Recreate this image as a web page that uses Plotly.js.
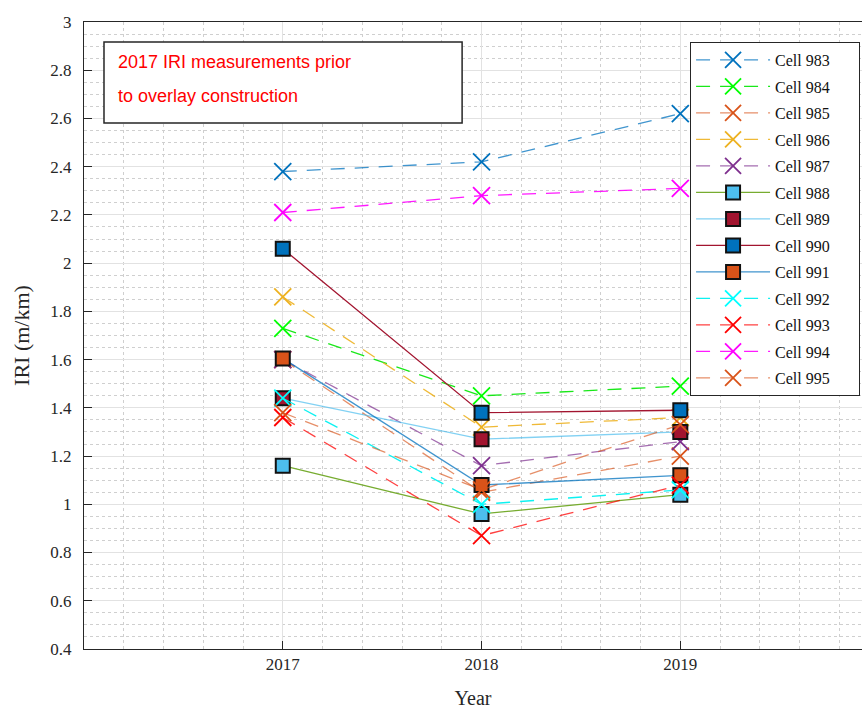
<!DOCTYPE html>
<html>
<head>
<meta charset="utf-8">
<script src="https://cdn.plot.ly/plotly-3.0.1.min.js"></script>
<style>html,body{margin:0;padding:0;background:#fff;overflow:hidden}</style>
</head>
<body>
<div id="chart" style="width:862px;height:709px"></div>
<script>
// ---- data ----
const years = [2017, 2018, 2019];
const cellNames = ['Cell 983','Cell 984','Cell 985','Cell 986','Cell 987','Cell 988','Cell 989',
                   'Cell 990','Cell 991','Cell 992','Cell 993','Cell 994','Cell 995'];
const cell983 = [2.38, 2.42, 2.62];
const cell984 = [1.73, 1.45, 1.49];
const cell985 = [1.60, 1.05, 1.20];
const cell986 = [1.86, 1.32, 1.36];
const cell987 = [1.60, 1.16, 1.26];
const cell988 = [1.16, 0.96, 1.04];
const cell989 = [1.44, 1.27, 1.30];
const cell990 = [2.06, 1.38, 1.39];
const cell991 = [1.605, 1.08, 1.12];
const cell992 = [1.44, 1.00, 1.06];
const cell993 = [1.36, 0.87, 1.08];
const cell994 = [2.21, 2.28, 2.31];
const cell995 = [1.38, 1.06, 1.33];
const yTickVals = [0.4,0.6,0.8,1,1.2,1.4,1.6,1.8,2,2.2,2.4,2.6,2.8,3];
const noteLines = ['2017 IRI measurements prior', 'to overlay construction'];

// ---- styles ----
const xStyle = (c, lc) => ({mode:'lines+markers',
  line:{color:lc, width:1.3, dash:'14px,10px'},
  marker:{symbol:'x-thin-open', size:17, color:c, line:{color:c, width:1.8}}});
const sqStyle = (lc, fc) => ({mode:'lines+markers',
  line:{color:lc, width:1.3},
  marker:{symbol:'square', size:14, color:fc, line:{color:'#111', width:2}}});

const series = [
  [cell983, xStyle('#0072BD','rgba(0,114,189,0.75)')],
  [cell984, xStyle('#00FF00','rgba(0,230,0,0.9)')],
  [cell985, xStyle('#D95319','rgba(217,83,25,0.65)')],
  [cell986, xStyle('#EDB120','rgba(237,177,32,0.9)')],
  [cell987, xStyle('#7E2F8E','rgba(126,47,142,0.7)')],
  [cell988, sqStyle('#77AC30','#4DBEEE')],
  [cell989, sqStyle('rgba(77,190,238,0.7)','#A2142F')],
  [cell990, sqStyle('#A2142F','#0072BD')],
  [cell991, sqStyle('rgba(0,114,189,0.75)','#D95319')],
  [cell992, xStyle('#00FFFF','rgba(0,240,240,0.95)')],
  [cell993, xStyle('#FF0000','rgba(255,0,0,0.75)')],
  [cell994, xStyle('#FF00FF','rgba(255,0,255,0.9)')],
  [cell995, xStyle('#D95319','rgba(217,83,25,0.65)')]
];

const legendPad = '\u00a0\u00a0\u00a0\u00a0\u00a0\u00a0';
const traces = series.map((s, i) => Object.assign({
  type:'scatter', x: years, y: s[0], name: cellNames[i] + legendPad, legendgroup: 'g'+i
}, s[1]));

const axisFont = {family:'"Liberation Serif", "Times New Roman", serif', size:17, color:'#262626'};

const layout = {
  width:862, height:709,
  margin:{l:84, r:0, t:22, b:60, pad:0},
  paper_bgcolor:'#fff', plot_bgcolor:'#fff',
  showlegend:true,
  legend:{x:0.779, y:0.968, xanchor:'left', yanchor:'top',
    bgcolor:'#fff', bordercolor:'#262626', borderwidth:1,
    font:{family:'"Liberation Serif", "Times New Roman", serif', size:16, color:'#111'},
    tracegroupgap:2.7, itemwidth:74},
  xaxis:{range:[2016, 2019.914], tickvals:years, ticktext:years.map(String),
    ticks:'inside', ticklen:8, tickcolor:'#262626',
    showline:true, linecolor:'#262626', linewidth:1, mirror:true,
    showgrid:true, gridcolor:'#e2e2e2', gridwidth:1, zeroline:false,
    minor:{dtick:0.2, tick0:2016, showgrid:true, gridcolor:'#cfcfcf', griddash:'dot', gridwidth:1},
    tickfont:axisFont,
    title:{text:'Year', font:{family:'"Liberation Serif", serif', size:20, color:'#262626'}, standoff:18}},
  yaxis:{range:[0.4, 3], tickvals:yTickVals, ticktext:yTickVals.map(String),
    ticks:'inside', ticklen:8, tickcolor:'#262626',
    showline:true, linecolor:'#262626', linewidth:1, mirror:false,
    showgrid:true, gridcolor:'#e2e2e2', gridwidth:1, zeroline:false,
    minor:{dtick:0.05, tick0:0.4, showgrid:true, gridcolor:'#cfcfcf', griddash:'dot', gridwidth:1},
    tickfont:axisFont, ticklabelstandoff:8,
    title:{text:'IRI (m/km)', font:{family:'"Liberation Serif", serif', size:22, color:'#262626'}, standoff:14}},
  shapes:[{type:'rect', xref:'paper', yref:'paper', x0:0.0257, x1:0.486, y0:0.839, y1:0.968,
    line:{color:'#262626', width:1.5}, fillcolor:'#fff', layer:'above'}],
  annotations: noteLines.map((t, i) => ({
    xref:'paper', yref:'paper', x:0.041, y: i === 0 ? 0.937 : 0.882,
    xanchor:'left', yanchor:'middle', showarrow:false, text:t,
    font:{family:'"Liberation Sans", Arial, sans-serif', size:18, color:'#FF0000'}}))
};

Plotly.newPlot('chart', traces, layout, {displayModeBar:false, staticPlot:true});
</script>
</body>
</html>
